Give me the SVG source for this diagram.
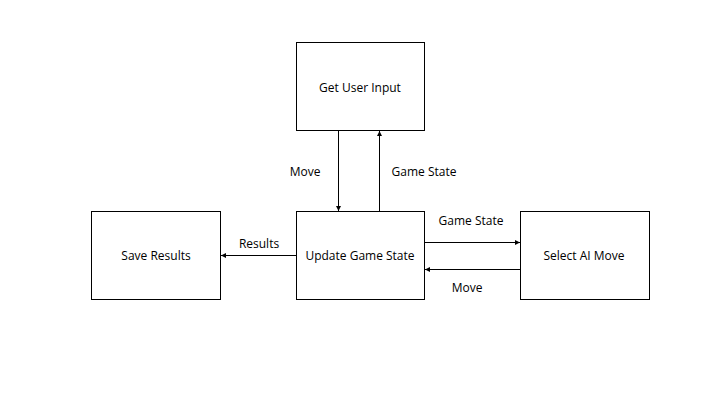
<svg xmlns="http://www.w3.org/2000/svg" width="720" height="405" viewBox="0 0 720 405">
<defs>
<style>
.box{fill:#fff;stroke:#000;stroke-width:1}
.lbl{font-family:"Open Sans","Liberation Sans",sans-serif;font-size:12px;fill:#000;text-anchor:middle;dominant-baseline:central}
.edge{stroke:#000;stroke-width:1;fill:none;marker-end:url(#ah)}
</style>
<marker id="ah" viewBox="0 0 6 6" refX="6" refY="3" markerWidth="5" markerHeight="5" orient="auto" markerUnits="userSpaceOnUse">
<path d="M0,0 L6,3 L0,6 z" fill="#000"/>
</marker>
</defs>
<rect width="720" height="405" fill="#fff"/>
<g id="get-user-input"><rect class="box" x="296.5" y="42.5" width="128" height="88"/><text class="lbl" x="360" y="87">Get User Input</text></g>
<g id="update-game-state"><rect class="box" x="296.5" y="211.5" width="128" height="88"/><text class="lbl" x="360" y="255">Update Game State</text></g>
<g id="save-results"><rect class="box" x="91.5" y="211.5" width="129" height="88"/><text class="lbl" x="156" y="255">Save Results</text></g>
<g id="select-ai-move"><rect class="box" x="520.5" y="211.5" width="129" height="88"/><text class="lbl" x="584" y="255">Select AI Move</text></g>
<g id="connectors">
<line class="edge" x1="338.5" y1="131" x2="338.5" y2="211"/>
<text class="lbl" x="305" y="171">Move</text>
<line class="edge" x1="379.5" y1="211" x2="379.5" y2="131"/>
<text class="lbl" x="424" y="171">Game State</text>
<line class="edge" x1="296" y1="255.5" x2="221" y2="255.5"/>
<text class="lbl" x="259" y="243">Results</text>
<line class="edge" x1="425" y1="242.5" x2="520" y2="242.5"/>
<text class="lbl" x="471" y="220">Game State</text>
<line class="edge" x1="520" y1="269.5" x2="425" y2="269.5"/>
<text class="lbl" x="467" y="287">Move</text>
</g>
</svg>
